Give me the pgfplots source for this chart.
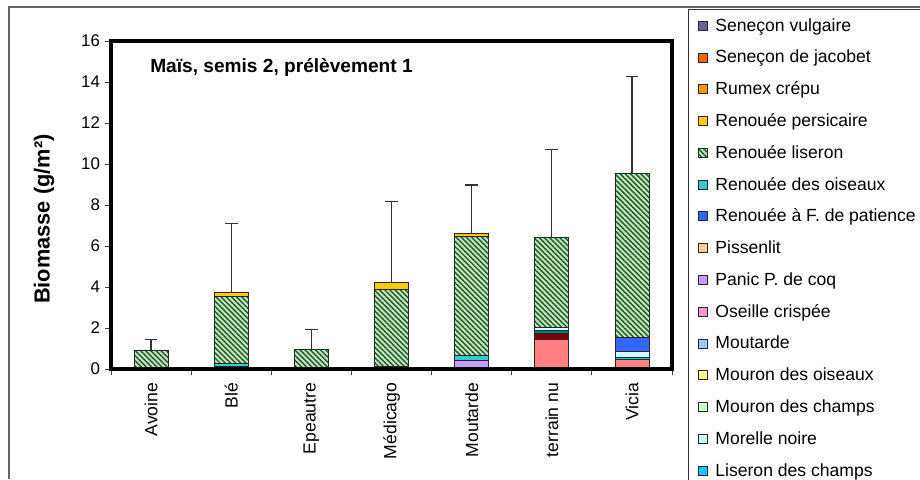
\documentclass[border=0pt]{standalone}
\usepackage{fontspec}
\setmainfont{Liberation Sans}
\usepackage{pgfplots}
\pgfplotsset{compat=1.18}
\usetikzlibrary{patterns.meta}
\definecolor{cHa}{HTML}{660066}
\definecolor{cHb}{HTML}{FF8080}
\definecolor{cHc}{HTML}{800000}
\definecolor{cHd}{HTML}{008080}
\definecolor{cLis}{HTML}{00CCFF}
\definecolor{cMor}{HTML}{CCFFFF}
\definecolor{cMch}{HTML}{CCFFCC}
\definecolor{cMoi}{HTML}{FFFF99}
\definecolor{cMou}{HTML}{99CCFF}
\definecolor{cOse}{HTML}{FF99CC}
\definecolor{cPan}{HTML}{CC99FF}
\definecolor{cPis}{HTML}{FFCC99}
\definecolor{cRaf}{HTML}{3366FF}
\definecolor{cRoi}{HTML}{33CCCC}
\definecolor{cRlisL}{HTML}{BDE8B8}
\definecolor{cRlisD}{HTML}{2A5532}
\definecolor{cRpe}{HTML}{FFCC00}
\definecolor{cRum}{HTML}{FF9900}
\definecolor{cSja}{HTML}{FF6600}
\definecolor{cSvu}{HTML}{666699}
\pgfplotsset{bb/.style={fill=#1, draw=black!85, line width=0.5pt}}
\begin{document}
\begin{tikzpicture}
\path[use as bounding box] (0,0) rectangle (23,11.975);
\draw[color=black!60, line width=1.4pt] (0.225,0) -- (0.225,11.8) -- (23,11.8);
\begin{axis}[
  at={(2.775cm,2.75cm)}, anchor=south west,
  scale only axis, width=14.025cm, height=8.2cm,
  ybar stacked, bar width=0.85cm,
  xmin=0.5, xmax=7.5, ymin=0, ymax=16,
  ytick={0,2,...,16},
  xtick={1,...,7},
  xticklabels={Avoine,Blé,Epeautre,Médicago,Moutarde,terrain nu,Vicia},
  minor xtick={0.5,1.5,...,7.5},
  xtick pos=bottom, ytick pos=left,
  tick align=outside,
  major tick length=4.3pt, minor tick length=4.3pt,
  major x tick style={draw=none},
  minor x tick style={draw=black!75, line width=0.6pt},
  major y tick style={draw=black!75, line width=0.6pt},
  axis line style={line width=2.6pt, black},
  axis on top,
  /pgf/number format/assume math mode=true,
  yticklabel style={font=\fontsize{12}{14}\selectfont},
  xticklabel style={rotate=90, anchor=east, font=\fontsize{12.5}{15}\selectfont, yshift=-0.1pt, xshift=-2pt},
  ylabel={Biomasse (g/m²)},
  ylabel style={at={(axis description cs:-0.1194,0.457)}, anchor=center, font=\bfseries\fontsize{15.5}{18}\selectfont},
  legend style={at={(1.0285,1.0976)}, anchor=north west, draw=black!80, line width=0.8pt, fill=white,
    inner xsep=6.4pt, inner ysep=6.2pt, font=\fontsize{12.5}{15}\selectfont, row sep=10.4pt,
    nodes={inner sep=0pt, text height=9.2pt, text depth=3pt, anchor=base west},
    /tikz/every odd column/.append style={column sep=5.7pt}},
  legend cell align=left,
  reverse legend,
  legend image code/.code={\draw[#1, draw=black!85, line width=0.6pt] (0pt,0.7pt) rectangle (6.4pt,7.1pt);},
]
% hidden series (below the visible part of the legend)
\addplot[bb=cHa, forget plot] coordinates {(1,0) (2,0) (3,0) (4,0.15) (5,0) (6,0) (7,0)};
\addplot[bb=cHb, forget plot] coordinates {(1,0) (2,0) (3,0) (4,0) (5,0) (6,1.45) (7,0.47)};
\addplot[bb=cHc, forget plot] coordinates {(1,0) (2,0) (3,0) (4,0) (5,0) (6,0.29) (7,0)};
\addplot[bb=cHd, forget plot] coordinates {(1,0) (2,0) (3,0) (4,0) (5,0) (6,0.13) (7,0)};
% visible legend series, bottom to top
\addplot[bb=cLis] coordinates {(1,0) (2,0) (3,0) (4,0) (5,0) (6,0) (7,0.12)};
\addlegendentry{Liseron des champs}
\addplot[bb=cMor] coordinates {(1,0) (2,0) (3,0) (4,0) (5,0) (6,0.16) (7,0.27)};
\addlegendentry{Morelle noire}
\addplot[bb=cMch] coordinates {(1,0) (2,0.15) (3,0) (4,0) (5,0) (6,0) (7,0)};
\addlegendentry{Mouron des champs}
\addplot[bb=cMoi] coordinates {(1,0) (2,0) (3,0) (4,0) (5,0) (6,0) (7,0)};
\addlegendentry{Mouron des oiseaux}
\addplot[bb=cMou] coordinates {(1,0) (2,0) (3,0) (4,0) (5,0) (6,0) (7,0)};
\addlegendentry{Moutarde}
\addplot[bb=cOse] coordinates {(1,0) (2,0) (3,0) (4,0) (5,0) (6,0) (7,0)};
\addlegendentry{Oseille crispée}
\addplot[bb=cPan] coordinates {(1,0) (2,0) (3,0) (4,0) (5,0.44) (6,0) (7,0)};
\addlegendentry{Panic P. de coq}
\addplot[bb=cPis] coordinates {(1,0) (2,0) (3,0) (4,0) (5,0) (6,0) (7,0)};
\addlegendentry{Pissenlit}
\addplot[bb=cRaf] coordinates {(1,0) (2,0) (3,0) (4,0) (5,0) (6,0) (7,0.67)};
\addlegendentry{Renouée à F. de patience}
\addplot[bb=cRoi] coordinates {(1,0) (2,0.12) (3,0) (4,0) (5,0.24) (6,0) (7,0)};
\addlegendentry{Renouée des oiseaux}
\addplot[bb=cRlisL, postaction={pattern color=cRlisD, pattern={Lines[angle=-45,distance=2.6pt,line width=1pt]}}]
  coordinates {(1,0.93) (2,3.29) (3,0.96) (4,3.74) (5,5.77) (6,4.39) (7,8.03)};
\addlegendentry{Renouée liseron}
\addplot[bb=cRpe] coordinates {(1,0) (2,0.18) (3,0) (4,0.35) (5,0.17) (6,0) (7,0)};
\addlegendentry{Renouée persicaire}
\addplot[bb=cRum] coordinates {(1,0) (2,0) (3,0) (4,0) (5,0) (6,0) (7,0)};
\addlegendentry{Rumex crépu}
\addplot[bb=cSja] coordinates {(1,0) (2,0) (3,0) (4,0) (5,0) (6,0) (7,0)};
\addlegendentry{Seneçon de jacobet}
\addplot[bb=cSvu] coordinates {(1,0) (2,0) (3,0) (4,0) (5,0) (6,0) (7,0)};
\addlegendentry{Seneçon vulgaire}
\node[anchor=west, inner sep=0pt, font=\bfseries\fontsize{13.6}{16}\selectfont] at (rel axis cs:0.0695,0.918) {Maïs, semis 2, prélèvement 1};
\end{axis}
\begin{axis}[
  at={(2.775cm,2.75cm)}, anchor=south west,
  scale only axis, width=14.025cm, height=8.2cm,
  xmin=0.5, xmax=7.5, ymin=0, ymax=16,
  hide axis, clip=false,
]
\addplot[draw=none, mark=none,
  error bars/.cd, y dir=plus, y explicit,
  error bar style={line width=1pt, draw=black!80},
  error mark=-,
  error mark options={rotate=90, line width=1pt, mark size=4.5pt, draw=black!80}]
  coordinates {(1,0.93) +- (0,0.52) (2,3.74) +- (0,3.37) (3,0.96) +- (0,0.98) (4,4.24) +- (0,3.92)
               (5,6.62) +- (0,2.36) (6,6.42) +- (0,4.30) (7,9.56) +- (0,4.70)};
\end{axis}
\end{tikzpicture}
\end{document}
